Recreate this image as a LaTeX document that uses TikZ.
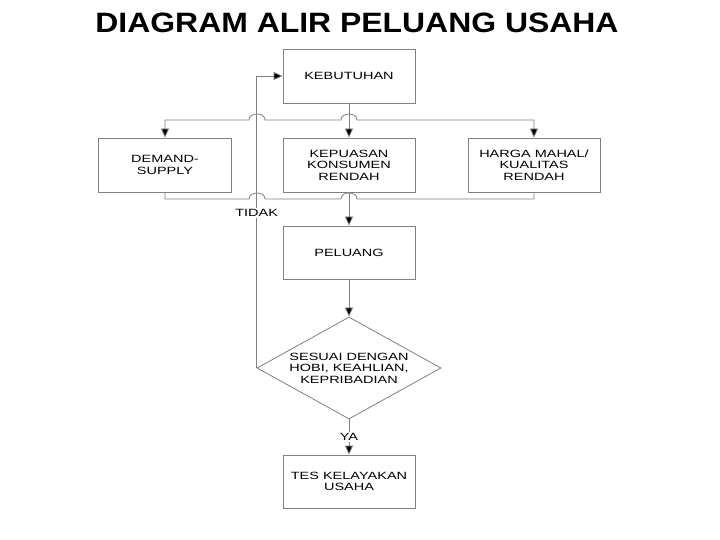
\documentclass[tikz,border=0pt]{standalone}
\usepackage{fontspec}
\setmainfont{Liberation Sans}
\newfontfamily\judulfont[FakeStretch=1.14]{Liberation Sans}
\newfontfamily\kotakfont[FakeStretch=1.38]{Liberation Sans}
\usetikzlibrary{arrows.meta,shapes.geometric}
\definecolor{garis}{RGB}{128,128,128}

\begin{document}
\begin{tikzpicture}[x=1pt, y=-1pt,
  kotak/.style={draw=garis, line width=0.8pt, minimum width=132pt, minimum height=54pt, inner sep=0pt, align=center, font=\kotakfont\fontsize{10.5}{11.5}\selectfont},
  teks/.style={inner sep=1pt, align=center, font=\kotakfont\fontsize{10.5}{11.5}\selectfont},
  kawat/.style={draw=garis, line width=0.8pt},
  alir/.style={kawat, -{Triangle[length=9pt, width=8pt, fill=black]}}]
\useasboundingbox (0,0) rectangle (720,540);
\node[anchor=base, font=\judulfont\bfseries\fontsize{28}{30}\selectfont] (judul) at (357,33) {DIAGRAM ALIR PELUANG USAHA};
\node[kotak] (keb) at (349,76) {KEBUTUHAN};
\node[kotak, minimum width=133pt] (dem) at (165,165) {DEMAND-\\SUPPLY};
\node[kotak] (kep) at (349,165) {KEPUASAN\\KONSUMEN\\RENDAH};
\node[kotak] (hrg) at (534,165) {HARGA MAHAL/\\KUALITAS\\RENDAH};
\node[kotak, minimum height=53pt] (pel) at (349,252.5) {PELUANG};
\node[diamond, draw=garis, line width=0.8pt, minimum width=184pt, minimum height=102pt, inner sep=0pt] (sesuai) at (349,368) {};
\node[teks] (sesuaiteks) at (sesuai) {SESUAI DENGAN\\HOBI, KEAHLIAN,\\KEPRIBADIAN};
\node[kotak, minimum height=53pt] (tes) at (349,481.5) {TES KELAYAKAN\\USAHA};
\draw[alir] (keb) -- (kep);
\draw[kawat, {Triangle[length=9pt, width=8pt, fill=black]}-{Triangle[length=9pt, width=8pt, fill=black]}] (dem.north) -- (dem.north |- 0,120) -- (249,120) .. controls (249,112) and (265,112) .. (265,120) -- (341,120) .. controls (341,112) and (357,112) .. (357,120) -- (hrg.north |- 0,120) -- (hrg.north);
\draw[kawat] (dem.south) -- (dem.south |- 0,199) -- (249,199) .. controls (249,191) and (265,191) .. (265,199) -- (341,199) .. controls (341,191) and (357,191) .. (357,199) -- (hrg.south |- 0,199) -- (hrg.south);
\draw[alir] (kep) -- (pel);
\draw[alir] (pel) -- (sesuai);
\draw[alir] (sesuai) -- node[teks, fill=white] (ya) {YA} (tes);
\draw[alir] (sesuai.west) -- (sesuai.west |- keb.west) -- (keb.west);
\node[teks, fill=white] (tidak) at (sesuai.west |- 0,213) {TIDAK};
\end{tikzpicture}
\end{document}
